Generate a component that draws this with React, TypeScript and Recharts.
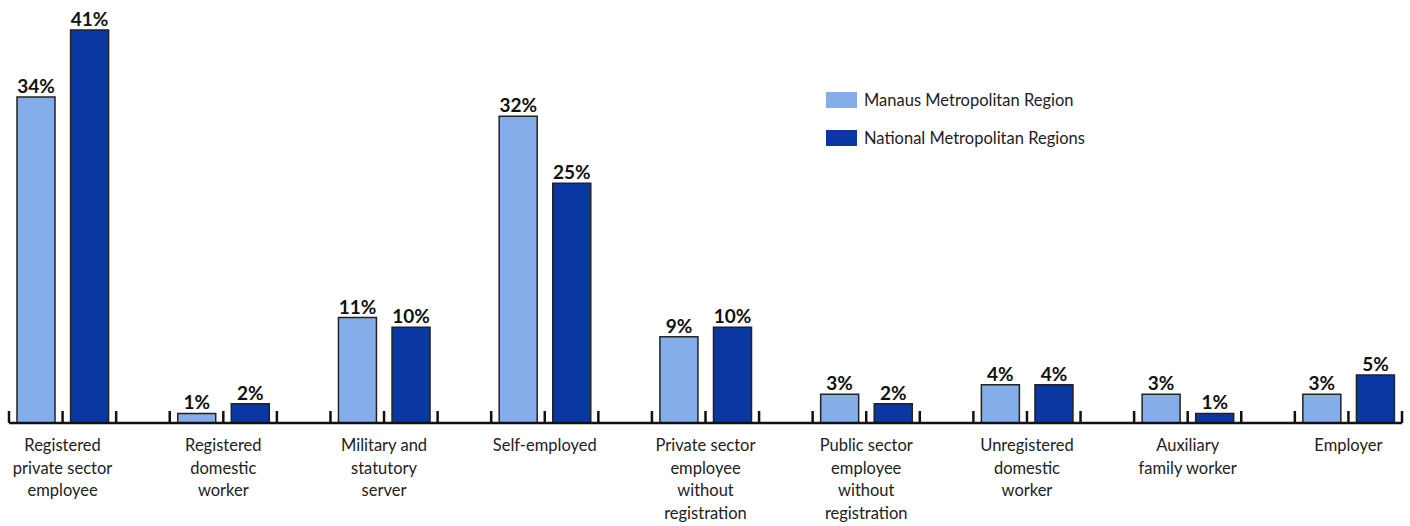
import React from "react";
import { BarChart, Bar, XAxis, YAxis, Legend, LabelList } from "recharts";

const categories: string[][] = [
  ["Registered", "private sector", "employee"],
  ["Registered", "domestic", "worker"],
  ["Military and", "statutory", "server"],
  ["Self-employed"],
  ["Private sector", "employee", "without", "registration"],
  ["Public sector", "employee", "without", "registration"],
  ["Unregistered", "domestic", "worker"],
  ["Auxiliary", "family worker"],
  ["Employer"],
];
const manaus: number[] = [34, 1, 11, 32, 9, 3, 4, 3, 3];
const national: number[] = [41, 2, 10, 25, 10, 2, 4, 1, 5];
const seriesNames = ["Manaus Metropolitan Region", "National Metropolitan Regions"];
const colors = ["#84ADE9", "#0A37A1"];

type Row = { key: string; cat: number; slot: number; manaus: number | null; national: number | null };
const rows: Row[] = [];
categories.forEach((_, i) => {
  rows.push({ key: `${i}a`, cat: i, slot: 0, manaus: manaus[i], national: null });
  rows.push({ key: `${i}b`, cat: i, slot: 1, manaus: null, national: national[i] });
  if (i < categories.length - 1) rows.push({ key: `${i}c`, cat: i, slot: 2, manaus: null, national: null });
});

const W = 1410;
const H = 526;
const M = { top: 30, right: 8, left: 9, bottom: 0 };
const BAND = (W - M.left - M.right) / rows.length;
const FONT = "Lato, 'DejaVu Sans', sans-serif";

const Tick = (props: any) => {
  const { x, y, index } = props;
  const row = rows[index];
  const left = x - BAND / 2;
  const els: React.ReactNode[] = [
    <line key="l" x1={left} x2={left} y1={y} y2={y - 12} stroke="#111" strokeWidth={2.5} />,
  ];
  if (index === rows.length - 1) {
    els.push(<line key="r" x1={x + BAND / 2} x2={x + BAND / 2} y1={y} y2={y - 12} stroke="#111" strokeWidth={2.5} />);
  }
  if (row && row.slot === 0) {
    const lines = categories[row.cat];
    els.push(
      <text key="t" x={x + BAND / 2} y={y + 28} textAnchor="middle" fontSize={16.5} fill="#222" fontFamily={FONT}>
        {lines.map((ln, k) => (
          <tspan key={k} x={x + BAND / 2} dy={k === 0 ? 0 : 22.5}>
            {ln}
          </tspan>
        ))}
      </text>
    );
  }
  return <g>{els}</g>;
};

const ValueLabel = (props: any) => {
  const { x, y, width, value } = props;
  if (value === null || value === undefined || value === 0) return null;
  const v = Array.isArray(value) ? value[1] - value[0] : value;
  if (!v) return null;
  return (
    <text x={x + width / 2} y={y - 4} textAnchor="middle" fontSize={19} fontWeight={700} fill="#111" fontFamily={FONT}>
      {`${v}%`}
    </text>
  );
};

const LegendContent = () => (
  <div style={{ fontFamily: FONT, fontSize: 16.5, color: "#222" }}>
    {seriesNames.map((n, i) => (
      <div key={n} style={{ display: "flex", alignItems: "center", height: 38 }}>
        <div style={{ width: 31, height: 16, background: colors[i], marginRight: 7 }} />
        <span>{n}</span>
      </div>
    ))}
  </div>
);

export default function App() {
  return (
    <div style={{ position: "absolute", left: 0, top: 0, width: W, height: H, background: "#fff" }}>
      <BarChart width={W} height={H} data={rows} margin={M} barCategoryGap={0}>
        <XAxis
          dataKey="key"
          interval={0}
          height={H - 423}
          tickSize={0}
          tickMargin={0}
          tickLine={false}
          axisLine={{ stroke: "#111", strokeWidth: 2.5 }}
          tick={<Tick />}
        />
        <YAxis hide domain={[0, 41]} />
        <Legend
          layout="vertical"
          verticalAlign="middle"
          align="center"
          wrapperStyle={{ top: 81, left: 826, width: 320 }}
          content={<LegendContent />}
        />
        <Bar
          dataKey="manaus"
          name={seriesNames[0]}
          stackId="s"
          fill={colors[0]}
          stroke="#222"
          strokeWidth={1.5}
          barSize={38}
          isAnimationActive={false}
        >
          <LabelList dataKey="manaus" content={<ValueLabel />} />
        </Bar>
        <Bar
          dataKey="national"
          name={seriesNames[1]}
          stackId="s"
          fill={colors[1]}
          stroke="#222"
          strokeWidth={1.5}
          barSize={38}
          isAnimationActive={false}
        >
          <LabelList dataKey="national" content={<ValueLabel />} />
        </Bar>
      </BarChart>
    </div>
  );
}
